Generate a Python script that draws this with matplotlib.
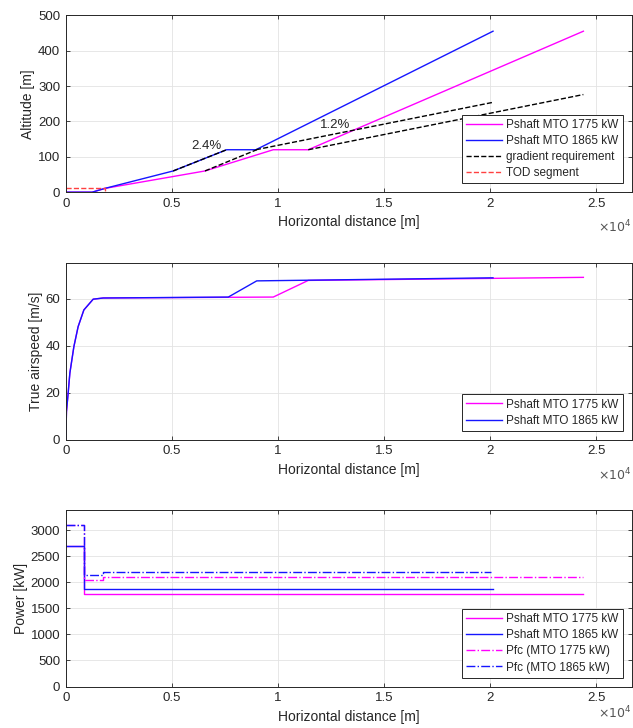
import matplotlib
matplotlib.use('Agg')
import matplotlib.pyplot as plt
from matplotlib.ticker import FuncFormatter

plt.rcParams['font.family'] = ['Liberation Sans', 'DejaVu Sans']

# Altitude profiles [m] vs horizontal distance [m]
alt_x_1775 = [0, 1240, 1840, 6560, 9780, 11430, 24400]
alt_1775 = [0, 0, 10.7, 60, 120, 120, 455]
alt_x_1865 = [0, 1240, 1840, 5060, 7580, 8960, 20140]
alt_1865 = [0, 0, 10.7, 60, 120, 120, 455]

# Gradient requirement lines (2.4% and 1.2%)
grad_x_1865_a = [5060, 7580]
grad_1865_a = [60, 120]
grad_x_1865_b = [8960, 20140]
grad_1865_b = [120, 254]
grad_x_1775_a = [6560, 9000]
grad_1775_a = [60, 120]
grad_x_1775_b = [11430, 24400]
grad_1775_b = [120, 276]

# TOD segment
tod_x = [0, 1840, 1840]
tod_alt = [10.7, 10.7, 0]

# True airspeed [m/s]
tas_x_1775 = [0, 30, 110, 190, 380, 580, 850, 1290, 1760, 9780, 11430, 24400]
tas_1775 = [0, 12, 19.9, 28.4, 39.7, 48.2, 55.3, 59.9, 60.4, 60.8, 67.9, 69.2]
tas_x_1865 = [0, 30, 110, 190, 380, 580, 850, 1290, 1760, 7660, 9000, 20140]
tas_1865 = [0, 12, 19.9, 28.4, 39.7, 48.2, 55.3, 59.9, 60.4, 60.8, 67.7, 69.0]

# Power [kW]
pshaft_x_1775 = [0, 860, 860, 24370]
pshaft_1775 = [2700, 2700, 1775, 1775]
pshaft_x_1865 = [0, 860, 860, 20160]
pshaft_1865 = [2700, 2700, 1865, 1865]
pfc_x_1775 = [0, 860, 860, 1760, 1760, 24370]
pfc_1775 = [3100, 3100, 2045, 2045, 2100, 2100]
pfc_x_1865 = [0, 860, 860, 1760, 1760, 20050]
pfc_1865 = [3100, 3100, 2150, 2150, 2200, 2200]

MAG = '#FF00FF'
BLU = '#1515FF'
RED = '#FF4040'
AXC = '#262626'

fig = plt.figure(figsize=(6.33, 7.28), dpi=100)
ax1 = fig.add_axes([0.104, 0.736, 0.894, 0.243])
ax2 = fig.add_axes([0.104, 0.396, 0.894, 0.243])
ax3 = fig.add_axes([0.104, 0.057, 0.894, 0.243])

lw = 1.0

# Altitude
ax1.plot(alt_x_1775, alt_1775, color=MAG, lw=lw, label='Pshaft MTO 1775 kW')
ax1.plot(alt_x_1865, alt_1865, color=BLU, lw=lw, label='Pshaft MTO 1865 kW')
ax1.plot(grad_x_1865_a, grad_1865_a, 'k--', lw=lw, label='gradient requirement')
ax1.plot(grad_x_1865_b, grad_1865_b, 'k--', lw=lw)
ax1.plot(grad_x_1775_a, grad_1775_a, 'k--', lw=lw)
ax1.plot(grad_x_1775_b, grad_1775_b, 'k--', lw=lw)
ax1.plot(tod_x, tod_alt, '--', color=RED, lw=lw, label='TOD segment')
ax1.text(6650, 131, '2.4%', ha='center', va='center', fontsize=9.5, color=AXC)
ax1.text(12690, 189, '1.2%', ha='center', va='center', fontsize=9.5, color=AXC)
ax1.set_ylim(0, 500)
ax1.set_yticks([0, 100, 200, 300, 400, 500])
ax1.set_ylabel('Altitude [m]')

# Airspeed
ax2.plot(tas_x_1775, tas_1775, color=MAG, lw=lw, label='Pshaft MTO 1775 kW')
ax2.plot(tas_x_1865, tas_1865, color=BLU, lw=lw, label='Pshaft MTO 1865 kW')
ax2.set_ylim(0, 75.4)
ax2.set_yticks([0, 20, 40, 60])
ax2.set_ylabel('True airspeed [m/s]')

# Power
ax3.plot(pshaft_x_1775, pshaft_1775, color=MAG, lw=lw, label='Pshaft MTO 1775 kW')
ax3.plot(pshaft_x_1865, pshaft_1865, color=BLU, lw=lw, label='Pshaft MTO 1865 kW')
ax3.plot(pfc_x_1775, pfc_1775, '-.', color=MAG, lw=lw, label='Pfc (MTO 1775 kW)')
ax3.plot(pfc_x_1865, pfc_1865, '-.', color=BLU, lw=lw, label='Pfc (MTO 1865 kW)')
ax3.set_ylim(0, 3400)
ax3.set_yticks([0, 500, 1000, 1500, 2000, 2500, 3000])
ax3.set_ylabel('Power [kW]')

for ax in (ax1, ax2, ax3):
    ax.set_xlim(0, 26680)
    ax.set_xticks([0, 5000, 10000, 15000, 20000, 25000])
    ax.xaxis.set_major_formatter(FuncFormatter(lambda v, p: '%g' % (v / 1e4)))
    ax.set_xlabel('Horizontal distance [m]', fontsize=10, color=AXC, labelpad=4)
    ax.yaxis.label.set_fontsize(10)
    ax.yaxis.label.set_color(AXC)
    ax.yaxis.labelpad = 2
    ax.grid(True, color='#e3e3e3', lw=0.6)
    ax.set_axisbelow(True)
    ax.tick_params(direction='in', top=True, right=True, labelsize=9.5,
                   colors=AXC, length=3, width=0.6, pad=4)
    for s in ax.spines.values():
        s.set_color(AXC)
        s.set_linewidth(0.7)
    leg = ax.legend(loc='lower right', fontsize=8.5, handlelength=3.0, fancybox=False,
                    framealpha=1, edgecolor=AXC, borderaxespad=0.75,
                    borderpad=0.35, labelspacing=0.35, handletextpad=0.4)
    leg.get_frame().set_linewidth(0.7)
    for t in leg.get_texts():
        t.set_color(AXC)
    bb = ax.get_position()
    fig.text(0.998, max(bb.y0 - 0.048, 0.003), r'$\times10^{4}$', fontsize=9,
             color='#555555', ha='right', va='center' if bb.y0 > 0.1 else 'bottom')

fig.savefig('out.png', dpi=100)
